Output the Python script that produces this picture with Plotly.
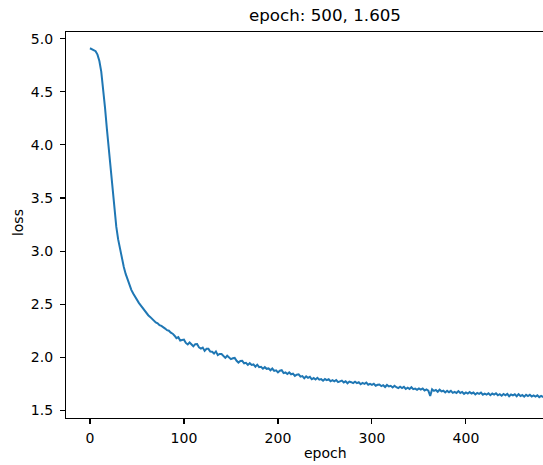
import plotly.graph_objects as go

epochs = list(range(0, 500, 2))

loss = [
    # 0 .. 88
    4.910, 4.902, 4.895, 4.882, 4.850, 4.790, 4.690, 4.540, 4.350, 4.150,
    3.950, 3.760, 3.560, 3.380, 3.230, 3.110, 3.010, 2.925, 2.850, 2.785,
    2.730, 2.680, 2.635, 2.600, 2.568, 2.540, 2.512, 2.488, 2.462, 2.440,
    2.420, 2.396, 2.380, 2.360, 2.347, 2.328, 2.320, 2.302, 2.295, 2.278,
    2.270, 2.255, 2.250, 2.232, 2.222,
    # 90 .. 188
    2.203, 2.180, 2.189, 2.158, 2.163, 2.166, 2.135, 2.121, 2.139, 2.125,
    2.103, 2.123, 2.125, 2.093, 2.081, 2.091, 2.060, 2.079, 2.079, 2.054,
    2.052, 2.035, 2.055, 2.020, 2.031, 2.030, 2.008, 1.994, 2.014, 1.998,
    1.982, 1.990, 1.994, 1.967, 1.950, 1.964, 1.966, 1.943, 1.948, 1.928,
    1.944, 1.928, 1.932, 1.911, 1.930, 1.907, 1.910, 1.892, 1.907, 1.891,
    # 190 .. 288
    1.895, 1.877, 1.894, 1.872, 1.877, 1.857, 1.873, 1.878, 1.851, 1.857,
    1.842, 1.857, 1.840, 1.846, 1.824, 1.836, 1.839, 1.817, 1.822, 1.802,
    1.820, 1.806, 1.816, 1.793, 1.804, 1.790, 1.806, 1.789, 1.794, 1.779,
    1.795, 1.784, 1.793, 1.774, 1.784, 1.773, 1.786, 1.766, 1.775, 1.780,
    1.763, 1.773, 1.755, 1.771, 1.765, 1.756, 1.769, 1.756, 1.764, 1.746,
    # 290 .. 388
    1.758, 1.750, 1.761, 1.741, 1.750, 1.740, 1.751, 1.732, 1.741, 1.743,
    1.728, 1.737, 1.720, 1.739, 1.725, 1.731, 1.716, 1.732, 1.718, 1.709,
    1.722, 1.710, 1.721, 1.701, 1.713, 1.702, 1.718, 1.700, 1.705, 1.693,
    1.707, 1.695, 1.706, 1.687, 1.698, 1.686, 1.635, 1.699, 1.683, 1.692,
    1.675, 1.694, 1.679, 1.685, 1.668, 1.684, 1.671, 1.683, 1.665, 1.674,
    # 390 .. 488
    1.663, 1.681, 1.664, 1.673, 1.655, 1.669, 1.658, 1.672, 1.659, 1.668,
    1.650, 1.664, 1.656, 1.667, 1.648, 1.658, 1.649, 1.661, 1.643, 1.658,
    1.648, 1.661, 1.642, 1.652, 1.638, 1.654, 1.642, 1.655, 1.633, 1.649,
    1.641, 1.651, 1.633, 1.653, 1.635, 1.644, 1.629, 1.646, 1.635, 1.647,
    1.630, 1.641, 1.630, 1.641, 1.624, 1.636, 1.627, 1.635, 1.623, 1.634,
    # 490 .. 498
    1.624, 1.629, 1.620, 1.628, 1.605,
]

x_ticks = [0, 100, 200, 300, 400]
y_ticks = [1.5, 2.0, 2.5, 3.0, 3.5, 4.0, 4.5, 5.0]
y_tick_text = ["1.5", "2.0", "2.5", "3.0", "3.5", "4.0", "4.5", "5.0"]

title_text = "epoch: 500, 1.605"
x_label = "epoch"
y_label = "loss"

font = "DejaVu Sans, Liberation Sans, sans-serif"

fig = go.Figure()
fig.add_trace(go.Scatter(
    x=epochs, y=loss, mode="lines",
    line=dict(color="#1f77b4", width=2),
    showlegend=False, hoverinfo="skip",
))

axis_common = dict(
    showgrid=False, zeroline=False,
    showline=True, linecolor="black", linewidth=1.1,
    ticks="outside", ticklen=5, tickwidth=1.1, tickcolor="black",
    tickfont=dict(family=font, size=14, color="black"),
)

fig.update_xaxes(
    range=[-25.5, 482], tickvals=x_ticks, mirror=True,
    ticklabelstandoff=2, **axis_common,
)
fig.update_yaxes(
    range=[1.428, 5.063], tickvals=y_ticks, ticktext=y_tick_text,
    mirror=False, ticklabelstandoff=4, **axis_common,
)

fig.add_annotation(
    text=title_text, xref="paper", yref="paper",
    x=0.543, y=1.044, xanchor="center", yanchor="middle",
    showarrow=False, font=dict(family=font, size=16.7, color="black"),
)
fig.add_annotation(
    text=x_label, xref="paper", yref="paper",
    x=0.543, y=-0.0907, xanchor="center", yanchor="middle",
    showarrow=False, font=dict(family=font, size=14, color="black"),
)
fig.add_annotation(
    text=y_label, xref="paper", yref="paper",
    x=-0.1006, y=0.505, xanchor="center", yanchor="middle",
    textangle=-90, showarrow=False,
    font=dict(family=font, size=14, color="black"),
)

fig.update_layout(
    width=543, height=465,
    margin=dict(l=66, r=0, t=32, b=47),
    plot_bgcolor="white", paper_bgcolor="white",
    hovermode=False, dragmode=False,
)

# remove the default page margin so the figure fills the window exactly
fig.write_html(
    "out.html",
    config={"displayModeBar": False, "staticPlot": True},
    post_script="document.body.style.margin='0';document.body.style.overflow='hidden';",
)
